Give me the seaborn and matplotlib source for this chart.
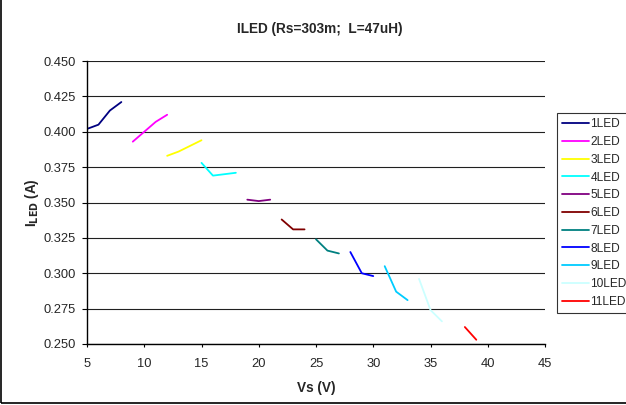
import matplotlib
matplotlib.use("Agg")
import matplotlib.pyplot as plt
import matplotlib.ticker as mticker
from matplotlib.patches import Rectangle
import pandas as pd
import seaborn as sns

sns.set_theme(style="white")
plt.rcParams["font.family"] = ["Liberation Sans", "DejaVu Sans"]

# ------------------------------------------------------------------
# Data (Vs in V, ILED in A)
# ------------------------------------------------------------------
series_names = ["1LED", "2LED", "3LED", "4LED", "5LED", "6LED",
                "7LED", "8LED", "9LED", "10LED", "11LED"]
vs_values = [
    [5, 6, 7, 8],
    [9, 10, 11, 12],
    [12, 13, 14, 15],
    [15, 16, 17, 18],
    [19, 20, 21],
    [22, 23, 24],
    [25, 26, 27],
    [28, 29, 30],
    [31, 32, 33],
    [34, 35, 36],
    [38, 39],
]
iled_values = [
    [0.402, 0.405, 0.415, 0.421],
    [0.393, 0.400, 0.407, 0.412],
    [0.383, 0.386, 0.390, 0.394],
    [0.378, 0.369, 0.370, 0.371],
    [0.352, 0.351, 0.352],
    [0.338, 0.331, 0.331],
    [0.324, 0.316, 0.314],
    [0.315, 0.300, 0.298],
    [0.305, 0.287, 0.281],
    [0.296, 0.274, 0.266],
    [0.262, 0.253],
]
series_colors = ["#000080", "#FF00FF", "#FFFF00", "#00FFFF", "#800080", "#800000",
                 "#008080", "#0000FF", "#00CCFF", "#CCFFFF", "#FF0000"]

rows = []
for name, xs, ys in zip(series_names, vs_values, iled_values):
    for x, y in zip(xs, ys):
        rows.append({"Vs": x, "ILED": y, "series": name})
df = pd.DataFrame(rows)

# ------------------------------------------------------------------
# Figure
# ------------------------------------------------------------------
fig = plt.figure(figsize=(6.26, 4.05), dpi=100)
ax = fig.add_axes([87 / 626, 1 - 344 / 405, (545 - 87) / 626, (344 - 61) / 405])

sns.lineplot(data=df, x="Vs", y="ILED", hue="series", hue_order=series_names,
             palette=dict(zip(series_names, series_colors)), lw=1.3,
             estimator=None, sort=False, ax=ax, legend=False)

ax.set_xlim(5, 45)
ax.set_ylim(0.250, 0.450)
ax.xaxis.set_major_locator(mticker.MultipleLocator(5))
ax.yaxis.set_major_locator(mticker.MultipleLocator(0.025))
ax.yaxis.set_major_formatter(mticker.FormatStrFormatter("%.3f"))
ax.grid(axis="y", color="#202020", lw=0.8)
ax.grid(axis="x", visible=False)
ax.set_axisbelow(True)
for side in ["top", "right"]:
    ax.spines[side].set_visible(False)
for side in ["left", "bottom"]:
    ax.spines[side].set_color("black")
    ax.spines[side].set_linewidth(1.0)
ax.tick_params(axis="y", direction="out", length=3.5, width=0.8, color="black",
               labelsize=9.3, pad=4.5, left=True)
ax.tick_params(axis="x", direction="out", length=2.5, width=0.8, color="black",
               labelsize=9.3, pad=7.5, bottom=True)

ax.set_title("ILED (Rs=303m;  L=47uH)", fontsize=9.8, fontweight="bold", pad=20,
             x=0.508)
ax.set_xlabel("Vs (V)", fontsize=9.8, fontweight="bold", labelpad=8)
ax.set_ylabel(r"I$_{\mathbf{LED}}$ (A)", fontsize=9.8, fontweight="bold", labelpad=2)

# legend built from the plotted lines
handles = ax.get_lines()[:len(series_names)]
leg = fig.legend(handles, series_names, loc="upper left",
                 bbox_to_anchor=(557 / 626, 1 - 113 / 405),
                 fontsize=8.6, frameon=True, fancybox=False, handlelength=2.2,
                 handletextpad=0.15, labelspacing=0.48, borderpad=0.45,
                 borderaxespad=0)
leg.get_frame().set_edgecolor("black")
leg.get_frame().set_linewidth(0.8)

# outer chart border
fig.patches.append(Rectangle((0.002, 0.004), 1.2, 1.2, transform=fig.transFigure,
                             fill=False, edgecolor="black", lw=1.2))

plt.savefig("out.png", dpi=100)
plt.close()
